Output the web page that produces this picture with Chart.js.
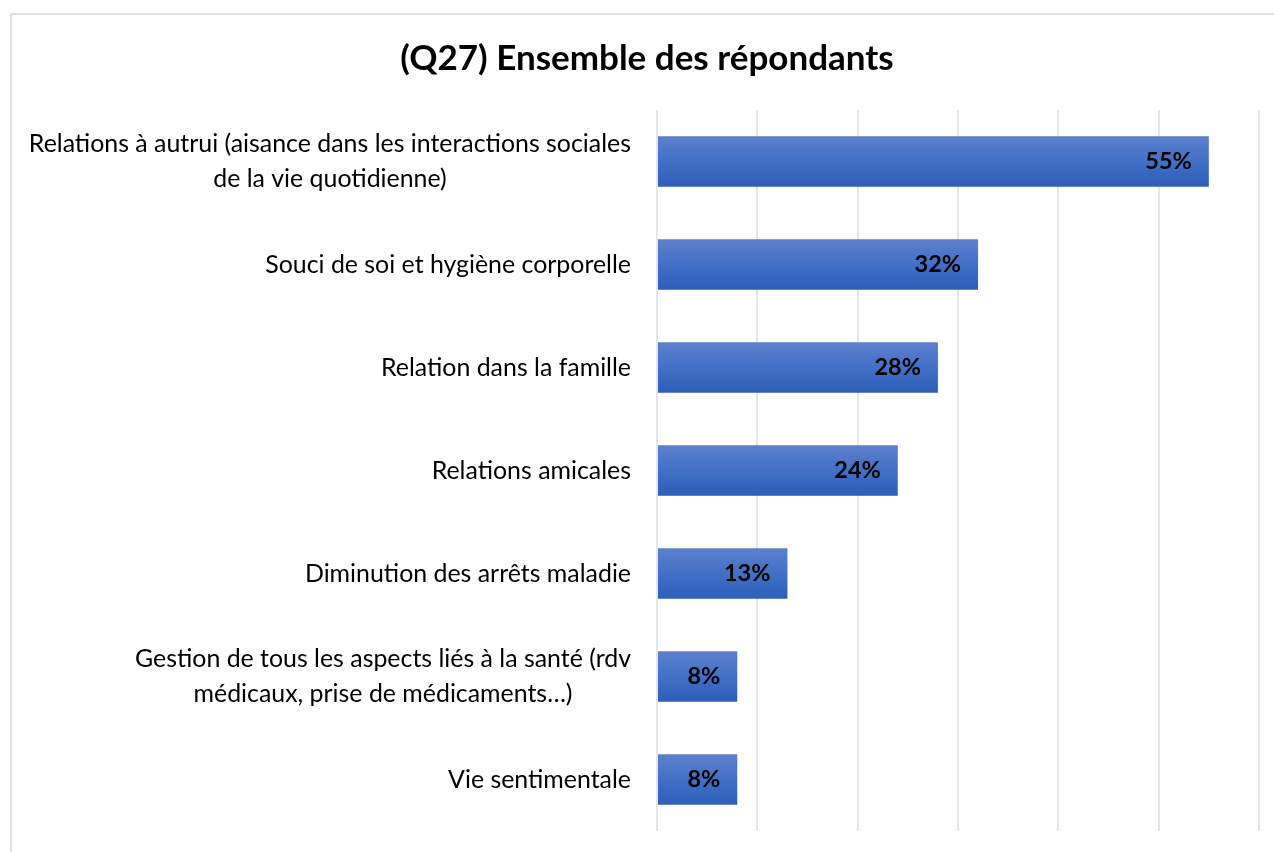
<!DOCTYPE html>
<html>
<head>
<meta charset="utf-8">
<script src="https://cdn.jsdelivr.net/npm/chart.js@4"></script>
<style>
  html, body { margin: 0; padding: 0; background: #fff; overflow: hidden; }
  body { width: 1274px; height: 852px; position: relative; }
  .frame { position: absolute; left: 10px; top: 13px; width: 1300px; height: 900px;
           border-left: 2px solid #dde1e7; border-top: 2px solid #dde1e7; box-sizing: border-box; }
  #chart { position: absolute; left: 10px; top: 13px; }
</style>
</head>
<body>
<div class="frame"></div>
<canvas id="chart" width="1274" height="839"></canvas>
<script>
const TITLE = "(Q27) Ensemble des répondants";
const categories = [
    ["Relations à autrui (aisance dans les interactions sociales", "de la vie quotidienne)"],
    ["Souci de soi et hygiène corporelle"],
    ["Relation dans la famille"],
    ["Relations amicales"],
    ["Diminution des arrêts maladie"],
    ["Gestion de tous les aspects liés à la santé (rdv", "médicaux, prise de médicaments…)"],
    ["Vie sentimentale"]
];
const values = [55, 32, 28, 24, 13, 8, 8];
const xTicks = [0, 10, 20, 30, 40, 50, 60];

const FONT = "Lato, 'Open Sans', sans-serif";

// bar gradient, lighter at the top
function barGradient(ctx) {
    const chart = ctx.chart;
    const area = chart.chartArea;
    if (!area || !chart.scales.y) return "#4472c4";
    const yc = chart.scales.y.getPixelForValue(ctx.dataIndex);
    const h = area.height / categories.length * 0.49;
    const g = chart.ctx.createLinearGradient(0, yc - h / 2, 0, yc + h / 2);
    g.addColorStop(0, "#5d80cd");
    g.addColorStop(0.5, "#4270c6");
    g.addColorStop(1, "#2d5eb9");
    return g;
}

// category labels: each block right aligned, lines centered within the block
const categoryLabels = {
    id: "categoryLabels",
    afterDraw(chart) {
        const ctx = chart.ctx;
        const yScale = chart.scales.y;
        const right = chart.chartArea.left - 26;
        const lineH = 35;
        ctx.save();
        ctx.font = "24.9px " + FONT;
        ctx.fillStyle = "#000";
        ctx.textAlign = "center";
        ctx.textBaseline = "middle";
        categories.forEach((lines, i) => {
            const yc = yScale.getPixelForValue(i);
            const w = Math.max(...lines.map(l => ctx.measureText(l).width));
            const cx = right - w / 2;
            const y0 = yc - (lines.length - 1) * lineH / 2;
            lines.forEach((l, k) => ctx.fillText(l, cx, y0 + k * lineH));
        });
        ctx.restore();
    }
};

// value labels inside the end of each bar
const valueLabels = {
    id: "valueLabels",
    afterDatasetsDraw(chart) {
        const ctx = chart.ctx;
        const meta = chart.getDatasetMeta(0);
        ctx.save();
        ctx.font = "bold 23.5px " + FONT;
        ctx.fillStyle = "#000";
        ctx.textAlign = "right";
        ctx.textBaseline = "middle";
        meta.data.forEach((bar, i) => {
            ctx.fillText(values[i] + "%", bar.x - 17, bar.y);
        });
        ctx.restore();
    }
};

new Chart(document.getElementById("chart"), {
    type: "bar",
    data: {
        labels: categories.map(c => c.join(" ")),
        datasets: [{
            data: values,
            backgroundColor: barGradient,
            borderWidth: 0,
            barPercentage: 0.49,
            categoryPercentage: 1
        }]
    },
    options: {
        indexAxis: "y",
        responsive: false,
        animation: false,
        layout: { padding: { left: 25, right: 25, top: 0, bottom: 21 } },
        plugins: {
            legend: { display: false },
            tooltip: { enabled: false },
            title: {
                display: true,
                text: TITLE,
                color: "#000",
                font: { family: FONT, size: 35, weight: "bold", lineHeight: 1.2 },
                padding: { top: 25, bottom: 30 }
            }
        },
        scales: {
            x: {
                min: xTicks[0],
                max: xTicks[xTicks.length - 1],
                afterBuildTicks: scale => { scale.ticks = xTicks.map(v => ({ value: v })); },
                ticks: { display: false },
                border: { display: false },
                grid: { color: "#e1e5ec", lineWidth: 2, drawTicks: false }
            },
            y: {
                ticks: { display: false },
                grid: { display: false },
                border: { display: false },
                afterFit: scale => { scale.width = 622; }
            }
        }
    },
    plugins: [categoryLabels, valueLabels]
});
</script>
</body>
</html>
